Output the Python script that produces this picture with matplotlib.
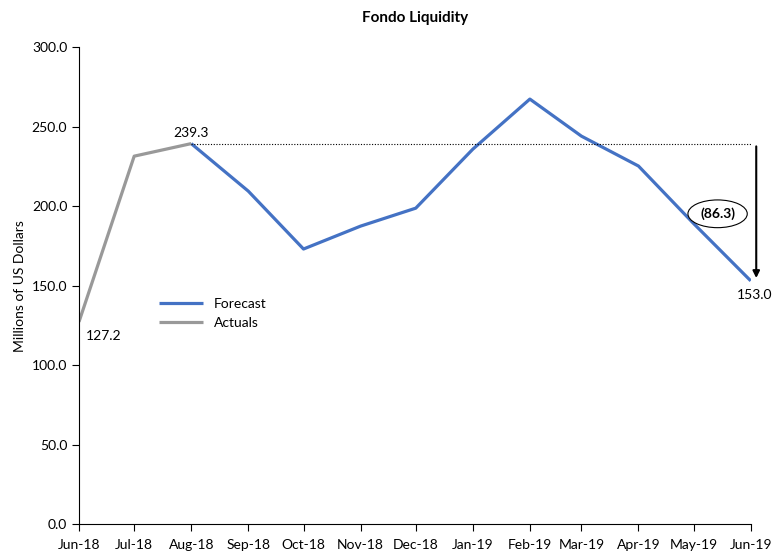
import datetime as dt
import matplotlib
matplotlib.use("Agg")
import matplotlib.pyplot as plt

plt.rcParams['font.family'] = ['Lato', 'DejaVu Sans']

months = ["2018-06", "2018-07", "2018-08", "2018-09", "2018-10", "2018-11", "2018-12",
          "2019-01", "2019-02", "2019-03", "2019-04", "2019-05", "2019-06"]
tick_labels = ["Jun-18", "Jul-18", "Aug-18", "Sep-18", "Oct-18", "Nov-18", "Dec-18",
               "Jan-19", "Feb-19", "Mar-19", "Apr-19", "May-19", "Jun-19"]
actuals = [127.2, 231.4, 239.3]
forecast = [239.3, 209.4, 173.0, 187.4, 198.7, 235.8, 267.3, 244.0, 225.2, 189.0, 153.0]

dates = [dt.datetime.strptime(m + "-01", "%Y-%m-%d") for m in months]

fig = plt.figure(figsize=(7.82, 5.54), dpi=100)
ax = fig.add_axes([0.101, 0.054, 0.859, 0.861])

# forecast from Aug-18 onwards, actuals up to Aug-18
ax.plot(dates[2:], forecast, color='#4472C4', lw=2.3, label='Forecast', solid_capstyle='butt')
ax.plot(dates[:3], actuals, color='#999999', lw=2.3, label='Actuals', solid_capstyle='butt')

# reference line and gap arrow
gap = forecast[0] - forecast[-1]
end_x = dates[-1] + dt.timedelta(days=3)
ax.plot([dates[2], end_x], [forecast[0], forecast[0]], color='black', lw=0.8, ls=(0, (1, 1.5)))
ax.annotate('', xy=(end_x, forecast[-1]), xytext=(end_x, forecast[0]),
            arrowprops=dict(arrowstyle='-|>', color='black', lw=1.5, mutation_scale=10),
            annotation_clip=False)
ax.text(dates[-1] - dt.timedelta(days=18), (forecast[0] + forecast[-1]) / 2 - 1,
        f'({gap:.1f})', ha='center', va='center', fontsize=10, fontweight='bold',
        bbox=dict(boxstyle='ellipse,pad=0.25', fc='white', ec='black', lw=0.8))

# data labels
ax.text(dates[0] + dt.timedelta(days=4), actuals[0] - 5, f'{actuals[0]:.1f}',
        ha='left', va='top', fontsize=10)
ax.text(dates[2], actuals[-1] + 3, f'{actuals[-1]:.1f}', ha='center', va='bottom', fontsize=10)
ax.text(dates[-1] + dt.timedelta(days=2), forecast[-1] - 5, f'{forecast[-1]:.1f}',
        ha='center', va='top', fontsize=10)

ax.set_xlim(dates[0], dates[-1])
ax.set_ylim(0, 300)
ax.set_xticks(dates)
ax.set_xticklabels(tick_labels)
ax.set_yticks(range(0, 301, 50))
ax.yaxis.set_major_formatter(matplotlib.ticker.FormatStrFormatter('%.1f'))
ax.tick_params(axis='both', labelsize=10, direction='out', length=5, width=0.8)
ax.tick_params(axis='x', pad=6)
for s in ['top', 'right']:
    ax.spines[s].set_visible(False)
ax.set_ylabel('Millions of US Dollars', fontsize=10, labelpad=4)
ax.set_title('Fondo Liquidity', fontsize=11, fontweight='bold', pad=18)

ax.legend(loc='upper left', bbox_to_anchor=(0.1, 0.5), frameon=False, fontsize=10,
          handlelength=3.2, labelspacing=0.5)

fig.savefig('out.png', dpi=100)
